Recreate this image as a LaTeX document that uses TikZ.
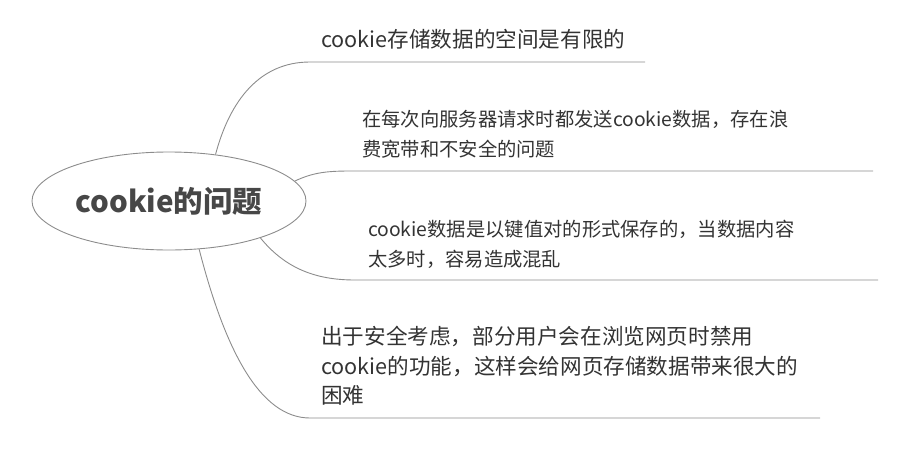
\documentclass[tikz,border=0pt]{standalone}
\usepackage{fontspec}
\setmainfont{Noto Sans CJK SC}
\usetikzlibrary{shapes.geometric}
\definecolor{linegray}{HTML}{8C8C8C}
\definecolor{txt}{HTML}{333333}
\definecolor{ctxt}{HTML}{474747}
\begin{document}
\begin{tikzpicture}[x=1pt,y=-1pt,
  conn/.style={draw=linegray,line width=0.9pt},
  leaf/.style={anchor=west,inner sep=0pt,align=left,text=txt},
  bigleaf/.style={leaf,font=\fontsize{21.6}{29.5}\selectfont},
  smallleaf/.style={leaf,font=\fontsize{19.3}{30}\selectfont}]
\useasboundingbox (0,0) rectangle (909,455);
\node[ellipse,draw=linegray,line width=0.9pt,minimum width=274pt,minimum height=98pt,inner sep=0pt,
  font=\fontsize{29.5}{32}\selectfont\bfseries,text=ctxt] (c) at (169,201) {cookie的问题};
\node[bigleaf] (t1) at (321,39) {cookie存储数据的空间是有限的};
\node[smallleaf] (t2) at (362,134) {在每次向服务器请求时都发送cookie数据，存在浪\\费宽带和不安全的问题};
\node[smallleaf] (t3) at (368,244) {cookie数据是以键值对的形式保存的，当数据内容\\太多时，容易造成混乱};
\node[bigleaf] (t4) at (321,366) {出于安全考虑，部分用户会在浏览网页时禁用\\cookie的功能，这样会给网页存储数据带来很大的\\困难};
\coordinate (e1) at (645,62);
\coordinate (e2) at (873,171);
\coordinate (e3) at (878,280);
\coordinate (e4) at (820,418);
\draw[conn] (c.45) .. controls (230,100) and (260,62) .. (310,62) -- (e1);
\draw[conn] (c.9) .. controls (312,173) and (325,171) .. (350,171) -- (e2);
\draw[conn] (c.-22) .. controls (285,268) and (315,280) .. (355,280) -- (e3);
\draw[conn] (c.-58) .. controls (225,350) and (260,418) .. (310,418) -- (e4);
\end{tikzpicture}
\end{document}
